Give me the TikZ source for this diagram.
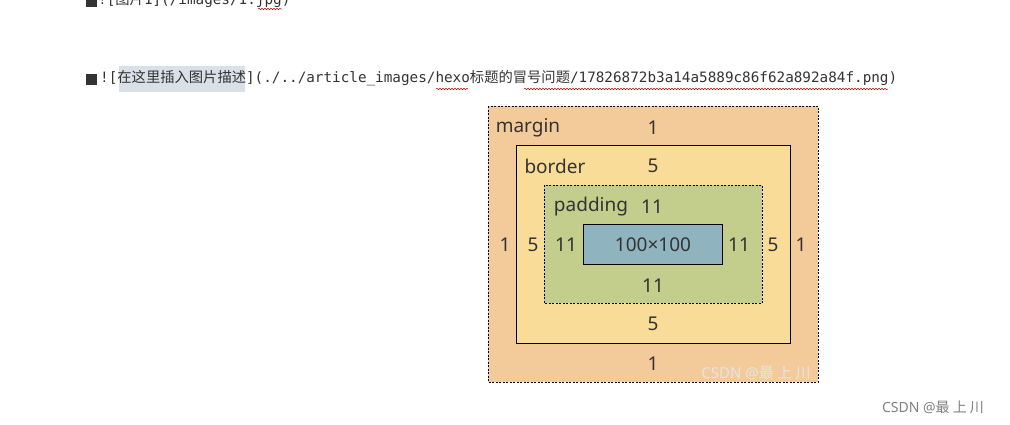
\documentclass[tikz,border=0pt]{standalone}
\usepackage{fontspec}
\setmainfont{Noto Sans}
\setmonofont{DejaVu Sans Mono}
\newfontfamily\cjk{Noto Sans CJK SC}
\usetikzlibrary{decorations.pathmorphing}
\definecolor{marginc}{HTML}{F3CB9B}
\definecolor{borderc}{HTML}{F8DC98}
\definecolor{padc}{HTML}{C3CE8C}
\definecolor{contc}{HTML}{8FB4BF}
\definecolor{txt}{HTML}{333333}
\definecolor{hl}{HTML}{D9E0E8}
\begin{document}
\begin{tikzpicture}[x=1pt,y=-1pt,
  lbl/.style={font=\fontsize{19}{19}\selectfont,text=txt,inner sep=0pt},
  code/.style={font=\ttfamily\fontsize{14.3}{15}\selectfont,text=txt,inner sep=0pt,anchor=west},
  wavy/.style={red!80!black,line width=0.5pt,decorate,decoration={snake,amplitude=0.8pt,segment length=3pt}},
  icon/.style={fill=txt,minimum size=11pt,inner sep=0pt}]
\useasboundingbox (0,0) rectangle (1010,424);
% top text
\node[icon] (ic1) at (91,1) {};
\node[code] (t1) at (98,0) {![{\cjk 图片}1](/images/1.jpg)};
\node[icon] (ic2) at (91,79) {};
\fill[hl] (119,66) rectangle (245,92);
\node[code] (t2) at (100,78) {![{\cjk 在这里插入图片描述}](./../article\_images/hexo{\cjk 标题的冒号问题}/17826872b3a14a5889c86f62a892a84f.png)};
\draw[wavy] (436,89) -- (468,89);
\draw[wavy] (524,89) -- (888,89);
\draw[wavy] (258,9) -- (282,9);
% boxes
\draw[fill=marginc,line width=0.6pt,dash pattern=on 2pt off 1.5pt] (488,106) rectangle (818,382);
\draw[fill=borderc,line width=0.8pt] (516,145) rectangle (790,343);
\draw[fill=padc,line width=0.6pt,dash pattern=on 2pt off 1.5pt] (544,185) rectangle (762,303);
\draw[fill=contc,line width=0.8pt] (583,224) rectangle (722,264);
% labels
\node[lbl] (lm) at (528,128) {margin};
\node[lbl] (mt) at (653,128) {1};
\node[lbl] (lb) at (555,166) {border};
\node[lbl] (bt) at (653,166) {5};
\node[lbl] (lp) at (591,207) {padding};
\node[lbl] (pt) at (652,207) {11};
\node[lbl] (ml) at (505,245) {1};
\node[lbl] (bl) at (533,245) {5};
\node[lbl] (pl) at (566,245) {11};
\node[lbl] (c) at (653,245) {100×100};
\node[lbl] (pr) at (739,245) {11};
\node[lbl] (br) at (773,245) {5};
\node[lbl] (mr) at (801,245) {1};
\node[lbl] (pb) at (653,286) {11};
\node[lbl] (bb) at (653,324) {5};
\node[lbl] (mb) at (653,364) {1};
% watermarks
\node[font=\fontsize{15}{15}\selectfont,text=white!80!gray,inner sep=0pt] (w1) at (756,373) {CSDN @{\cjk 最 上 川}};
\node[font=\fontsize{14}{14}\selectfont,text=gray,inner sep=0pt] (w2) at (933,407) {CSDN @{\cjk 最 上 川}};
\end{tikzpicture}
\end{document}
